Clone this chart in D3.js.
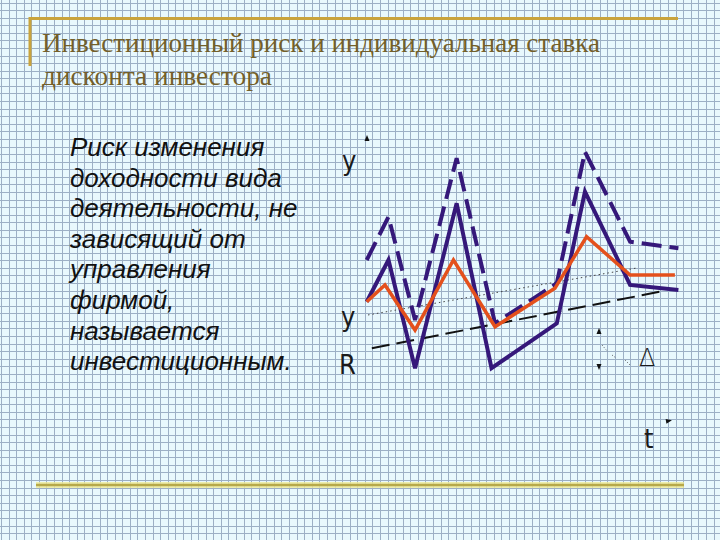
<!DOCTYPE html>
<html>
<head>
<meta charset="utf-8">
<script src="https://cdn.jsdelivr.net/npm/d3@7"></script>
<style>
html,body{margin:0;padding:0;background:#e6f7fc;}
svg{display:block;}
</style>
</head>
<body>
<svg id="chart" width="720" height="540"></svg>
<script>
// ---- data ----
const titleLines = ["Инвестиционный риск и индивидуальная ставка", "дисконта инвестора"];
const bodyLines = ["Риск изменения", "доходности вида", "деятельности, не", "зависящий от", "управления", "фирмой,", "называется", "инвестиционным."];

// time points (arbitrary units 0..100) and returns (0..100)
const tSolid  = [2.1, 8.9, 17.2, 30.2, 41.1, 61.5, 70.3, 84.4, 99.5];
const ySolid  = [32.6, 50, 4.9, 73.6, 4.9, 23.6, 78.5, 39.6, 37.5];
const tDashed = [2.1, 8.9, 17.2, 30.2, 42.2, 61.5, 70.3, 84.4, 99.5];
const yDashed = [50, 68, 25, 92.4, 23.6, 40.3, 95.1, 57.6, 54.9];
const tOrange = [2.1, 7.8, 17.2, 29.2, 42.2, 60.9, 70.8, 84.4, 98.4];
const yOrange = [32.6, 39.6, 20.8, 50, 22.2, 38.2, 59.7, 43.75, 43.75];
const tR = [3.7, 93.75];
const yR = [13.2, 36.8];
const tY = [2.5, 86.6];
const yY = [27.1, 46.7];

const svg = d3.select("#chart");
const W = 720, H = 540;

// ---- graph paper background ----
svg.append("rect").attr("width", W).attr("height", H).attr("fill", "#e8f8fd");
const step = 7.58;
const gx = d3.range(1.5, W, step), gy = d3.range(3, H, step);
const grid = svg.append("g").attr("stroke", "#9cafc5").attr("stroke-width", 1).attr("shape-rendering", "crispEdges");
grid.selectAll("line.v").data(gx).join("line").attr("class", "v")
  .attr("x1", d => d).attr("x2", d => d).attr("y1", 0).attr("y2", H);
grid.selectAll("line.h").data(gy).join("line").attr("class", "h")
  .attr("y1", d => d).attr("y2", d => d).attr("x1", 0).attr("x2", W);

// ---- frame decorations ----
svg.append("path").attr("d", "M30,66 V18.5 H678").attr("fill", "none")
  .attr("stroke", "#c9a33c").attr("stroke-width", 3);
svg.append("line").attr("x1", 36).attr("x2", 684).attr("y1", 485).attr("y2", 485)
  .attr("stroke", "#f0ec9a").attr("stroke-width", 6).attr("opacity", 0.8);
svg.append("line").attr("x1", 36).attr("x2", 684).attr("y1", 485).attr("y2", 485)
  .attr("stroke", "#b7a94a").attr("stroke-width", 2.5);

// ---- title ----
const title = svg.append("g").attr("font-family", "'Liberation Serif','DejaVu Serif',serif")
  .attr("font-size", 28).attr("fill", "#735f2a");
title.append("text").attr("x", 42).attr("y", 52).text(titleLines[0])
  .attr("textLength", 558).attr("lengthAdjust", "spacingAndGlyphs");
title.append("text").attr("x", 42).attr("y", 85).text(titleLines[1])
  .attr("textLength", 230).attr("lengthAdjust", "spacingAndGlyphs");

// ---- body text ----
svg.append("g").attr("font-family", "'Liberation Sans',Arial,sans-serif")
  .attr("font-style", "italic").attr("font-size", 26).attr("fill", "#111")
  .selectAll("text").data(bodyLines).join("text")
  .attr("x", 70).attr("y", (d, i) => 156 + i * 30.6).text(d => d);

// ---- chart ----
const x = d3.scaleLinear().domain([0, 100]).range([360, 680]);
const y = d3.scaleLinear().domain([0, 100]).range([380, 140]);
const line = d3.line().x(d => x(d[0])).y(d => y(d[1]));
const zip = (a, b) => a.map((v, i) => [v, b[i]]);

const g = svg.append("g").attr("fill", "none").attr("stroke-linejoin", "miter");
g.append("path").attr("d", line(zip(tY, yY))).attr("stroke", "#444")
  .attr("stroke-width", 1).attr("stroke-dasharray", "1.5 3");
g.append("path").attr("d", line(zip(tR, yR))).attr("stroke", "#111")
  .attr("stroke-width", 2).attr("stroke-dasharray", "18 7");
g.append("path").attr("d", line(zip(tSolid, ySolid))).attr("stroke", "#35187a").attr("stroke-width", 4);
g.append("path").attr("d", line(zip(tDashed, yDashed))).attr("stroke", "#35187a")
  .attr("stroke-width", 4).attr("stroke-dasharray", "20 8");
g.append("path").attr("d", line(zip(tOrange, yOrange))).attr("stroke", "#e4501c").attr("stroke-width", 3.5);

// ---- axis labels & arrows ----
const lab = svg.append("g").attr("font-family", "'Liberation Sans Narrow','DejaVu Sans Condensed',sans-serif")
  .attr("font-size", 27).attr("fill", "#1a1a1a");
lab.append("text").attr("x", 342).attr("y", 170).text("y");
lab.append("text").attr("x", 341).attr("y", 326).text("y");
lab.append("text").attr("x", 339).attr("y", 374).text("R");
lab.append("text").attr("x", 639).attr("y", 366).attr("font-family", "'DejaVu Sans',sans-serif")
  .attr("font-size", 24).attr("font-weight", "300").text("Δ");
lab.append("text").attr("x", 644).attr("y", 448).text("t");

const arrow = (cx, cy, rot) => svg.append("path").attr("d", "M0,-4 L2.5,2 L-2.5,2 Z")
  .attr("fill", "#111").attr("transform", `translate(${cx},${cy}) rotate(${rot})`);
arrow(367, 139, 0);
arrow(668, 421, 80);
arrow(599, 332, 0);
arrow(599, 366, 180);
svg.append("path").attr("d", "M602,345 L608,352 M612,355 L616,358 M625,360 L630,365")
  .attr("stroke", "#555").attr("stroke-width", 1).attr("stroke-dasharray", "1 2");
</script>
</body>
</html>
